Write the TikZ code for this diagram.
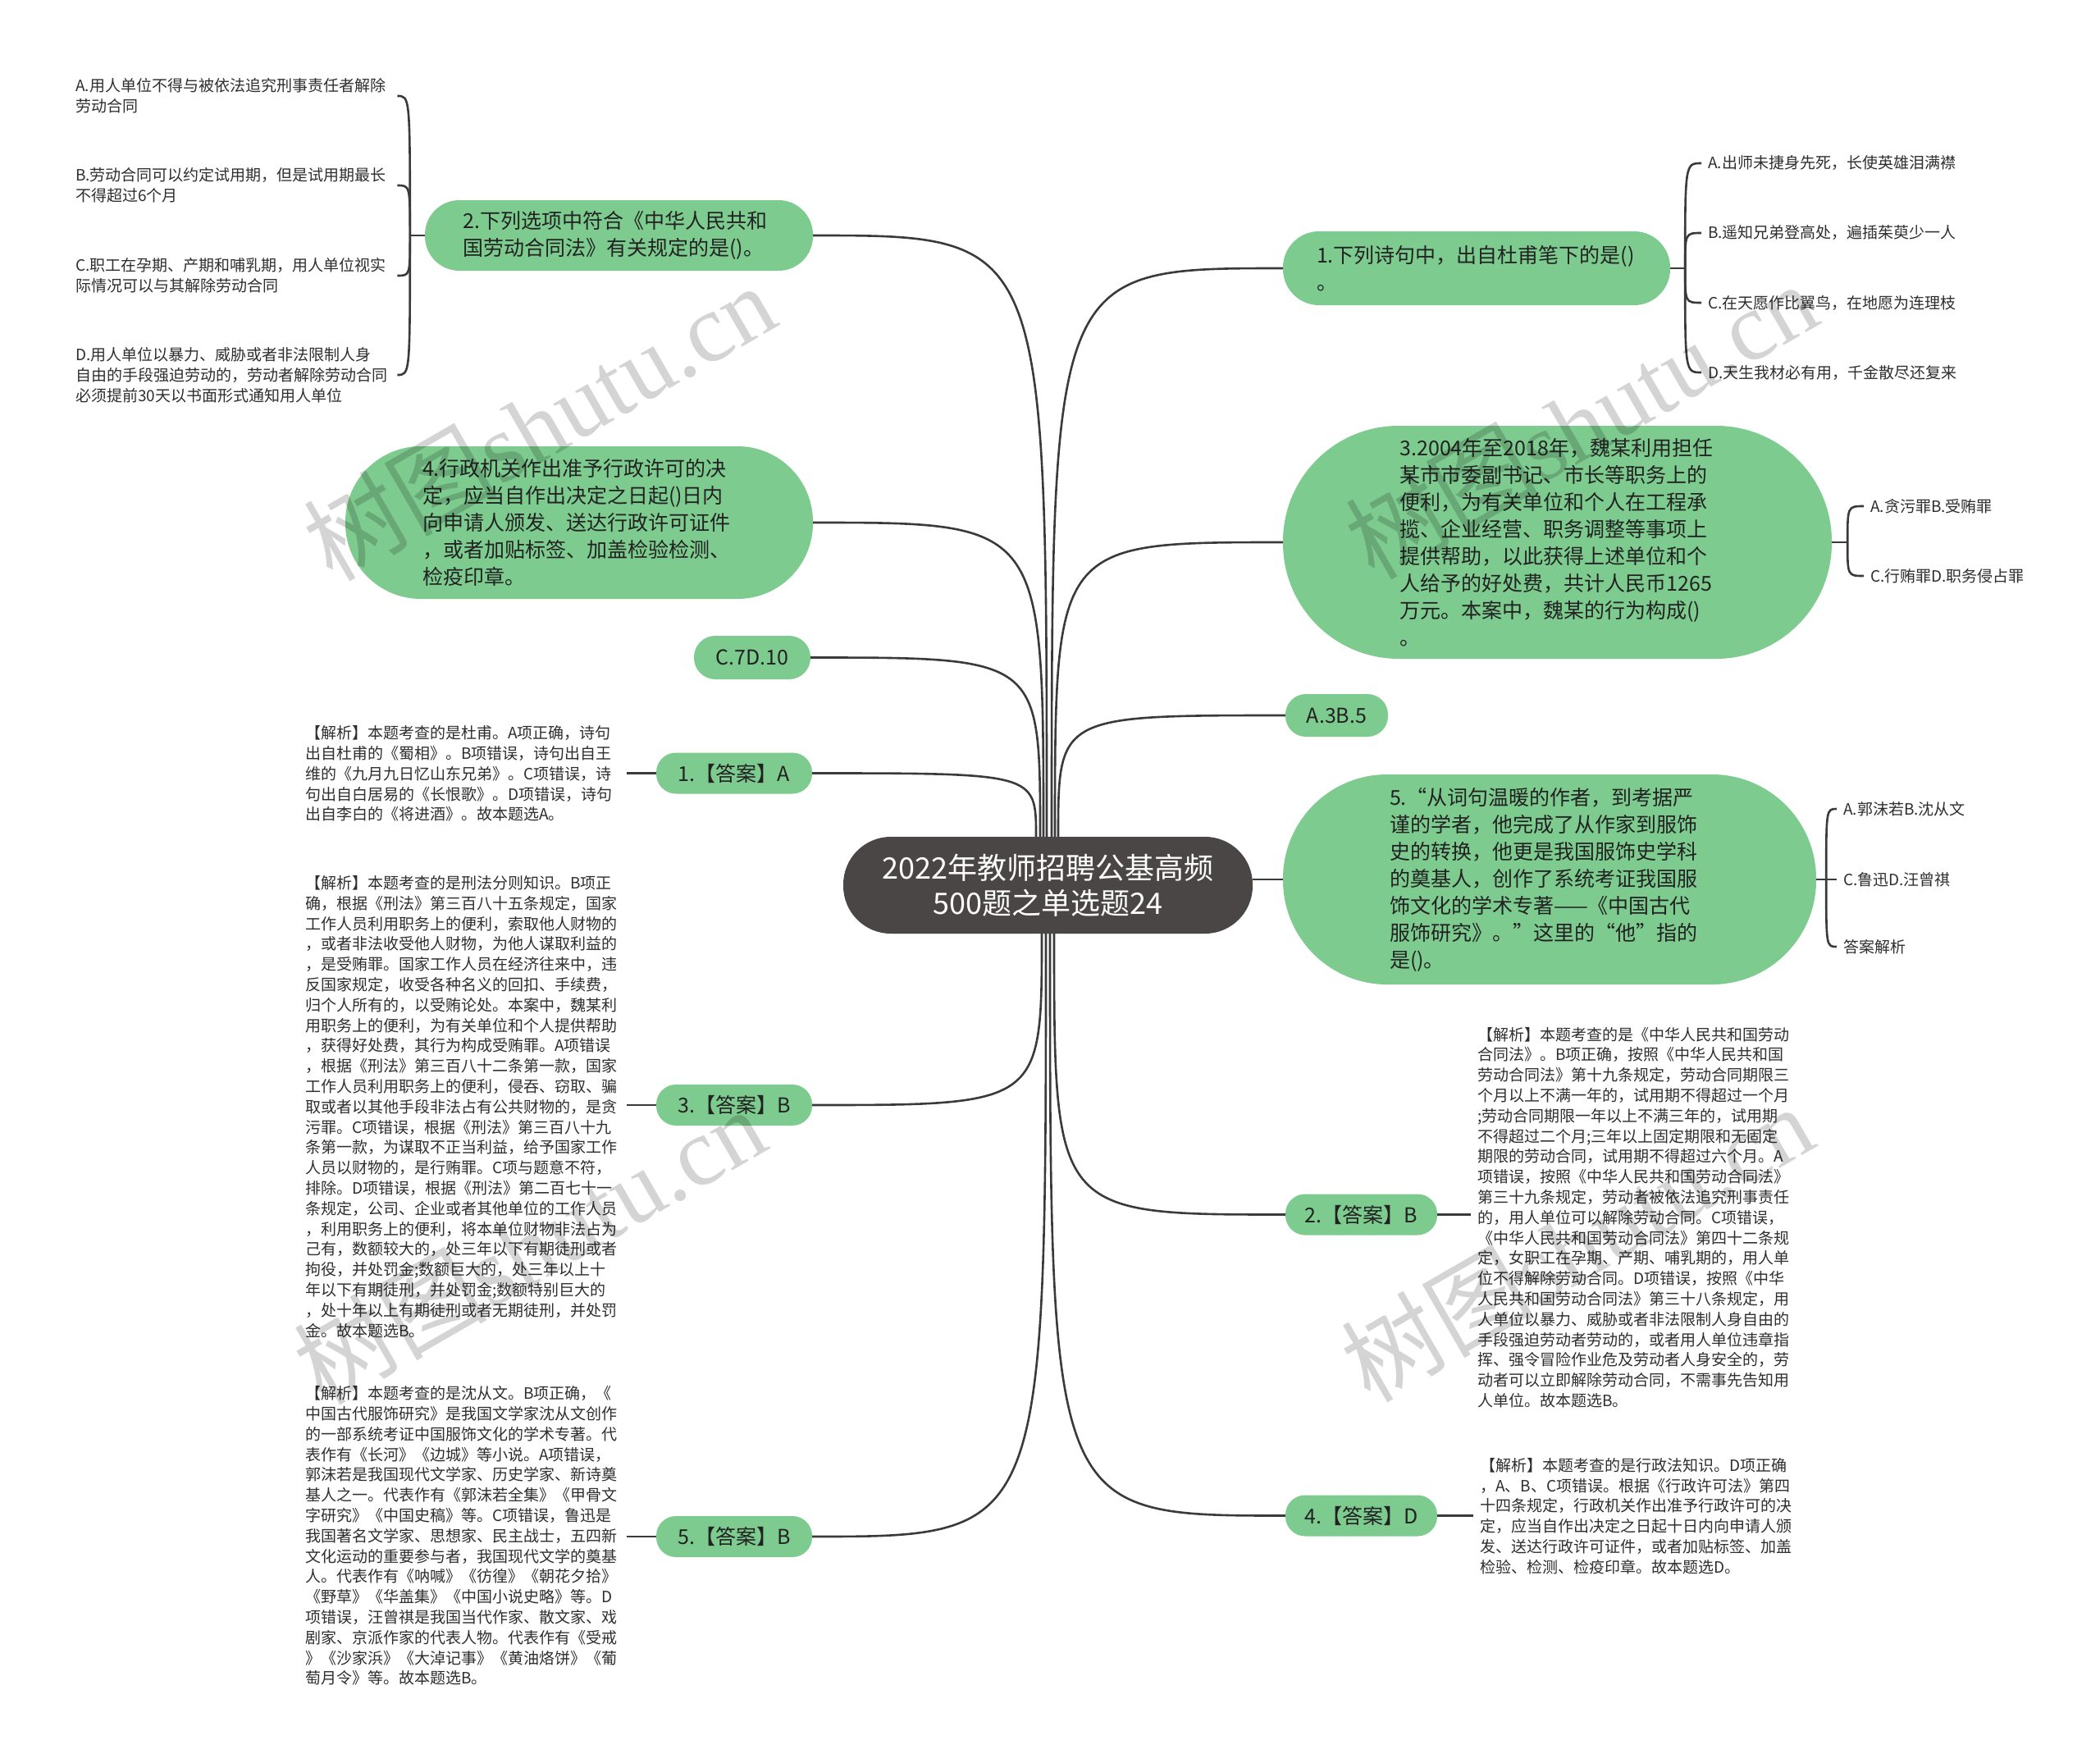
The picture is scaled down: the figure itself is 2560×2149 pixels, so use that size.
\documentclass[tikz,border=0pt]{standalone}
\usepackage{fontspec}
\setmainfont{Noto Sans CJK SC}
\newfontfamily\wmlatin{Liberation Serif}
\usetikzlibrary{calc}
\definecolor{nodegreen}{HTML}{7DCB8E}
\definecolor{rootgray}{HTML}{4A4646}
\definecolor{linegray}{HTML}{3A3A3A}
\definecolor{txtdark}{HTML}{222222}
\definecolor{leaftxt}{HTML}{2E2E2E}
\begin{document}
\begin{tikzpicture}[x=1pt,y=-1pt,
  conn/.style={draw=linegray,line width=2.6pt},
  pill/.style={fill=nodegreen,text=txtdark,inner sep=0pt,align=left,font=\fontsize{25pt}{33pt}\selectfont},
  smallpill/.style={pill,align=center,minimum height=50pt,rounded corners=24pt},
  rootbox/.style={fill=rootgray,text=white,inner sep=0pt,align=center,minimum width=499pt,minimum height=118pt,rounded corners=58pt,font=\fontsize{36pt}{43pt}\selectfont},
  leaf/.style={text=leaftxt,inner sep=0pt,align=left,font=\fontsize{19pt}{24.8pt}\selectfont},
  wm/.style={text=black,text opacity=0.17,rotate=30,inner sep=0pt,font=\fontsize{118pt}{118pt}\selectfont}
]
\useasboundingbox (0,0) rectangle (2560,2149);
\fill[white] (0,0) rectangle (2560,2149);

% ---- root ----
\node[rootbox] (c) at (1277.5,1079) {2022年教师招聘公基高频\\500题之单选题24};

% ---- left main nodes ----
\node[pill,minimum width=473pt,minimum height=86pt,text width=380pt,rounded corners=42pt] (q2) at (754.5,287) {2.下列选项中符合《中华人民共和\\国劳动合同法》有关规定的是()。};
\node[pill,minimum width=570pt,minimum height=186pt,text width=382pt,rounded corners=92pt] (q4) at (706,637) {4.行政机关作出准予行政许可的决\\定，应当自作出决定之日起()日内\\向申请人颁发、送达行政许可证件\\，或者加贴标签、加盖检验检测、\\检疫印章。};
\node[smallpill,minimum width=142pt,minimum height=53pt,rounded corners=26pt] (c7) at (917,801.5) {C.7D.10};
\node[smallpill,minimum width=190pt] (a1) at (895,942.5) {1.【答案】A};
\node[smallpill,minimum width=190pt] (a3) at (895,1347) {3.【答案】B};
\node[smallpill,minimum width=190pt] (a5) at (895,1873) {5.【答案】B};

% ---- right main nodes ----
\node[pill,minimum width=472pt,minimum height=90pt,text width=390pt,rounded corners=44pt] (q1) at (1800,327) {1.下列诗句中，出自杜甫笔下的是()\\。};
\node[pill,minimum width=669pt,minimum height=284pt,text width=384pt,rounded corners=141pt] (q3) at (1898.5,661) {3.2004年至2018年，魏某利用担任\\某市市委副书记、市长等职务上的\\便利，为有关单位和个人在工程承\\揽、企业经营、职务调整等事项上\\提供帮助，以此获得上述单位和个\\人给予的好处费，共计人民币1265\\万元。本案中，魏某的行为构成()\\。};
\node[smallpill,minimum width=125pt,minimum height=52pt,rounded corners=25pt] (a35) at (1629.5,872) {A.3B.5};
\node[pill,minimum width=650pt,minimum height=256pt,text width=390pt,rounded corners=127pt] (q5) at (1889,1072) {5.“从词句温暖的作者，到考据严\\谨的学者，他完成了从作家到服饰\\史的转换，他更是我国服饰史学科\\的奠基人，创作了系统考证我国服\\饰文化的学术专著——《中国古代\\服饰研究》。”这里的“他”指的\\是()。};
\node[smallpill,minimum width=185pt] (a2) at (1659.5,1480.5) {2.【答案】B};
\node[smallpill,minimum width=185pt] (a4) at (1659.5,1847.5) {4.【答案】D};

% ---- Q2 options ----
\node[leaf,text width=384pt,anchor=west] (o2a) at (92,117) {A.用人单位不得与被依法追究刑事责任者解除\\劳动合同};
\node[leaf,text width=384pt,anchor=west] (o2b) at (92,226) {B.劳动合同可以约定试用期，但是试用期最长\\不得超过6个月};
\node[leaf,text width=384pt,anchor=west] (o2c) at (92,336) {C.职工在孕期、产期和哺乳期，用人单位视实\\际情况可以与其解除劳动合同};
\node[leaf,text width=384pt,anchor=west] (o2d) at (92,457) {D.用人单位以暴力、威胁或者非法限制人身\\自由的手段强迫劳动的，劳动者解除劳动合同\\必须提前30天以书面形式通知用人单位};

% ---- Q1 options ----
\node[leaf,anchor=west] (o1a) at (2082,199) {A.出师未捷身先死，长使英雄泪满襟};
\node[leaf,anchor=west] (o1b) at (2082,284) {B.遥知兄弟登高处，遍插茱萸少一人};
\node[leaf,anchor=west] (o1c) at (2082,369) {C.在天愿作比翼鸟，在地愿为连理枝};
\node[leaf,anchor=west] (o1d) at (2082,454) {D.天生我材必有用，千金散尽还复来};

% ---- Q3 options ----
\node[leaf,anchor=west] (o3a) at (2280,617) {A.贪污罪B.受贿罪};
\node[leaf,anchor=west] (o3c) at (2280,702) {C.行贿罪D.职务侵占罪};

% ---- Q5 options ----
\node[leaf,anchor=west] (o5a) at (2247,986) {A.郭沫若B.沈从文};
\node[leaf,anchor=west] (o5c) at (2247,1072) {C.鲁迅D.汪曾祺};
\node[leaf,anchor=west] (o5d) at (2247,1154) {答案解析};

% ---- explanations ----
\node[leaf,text width=386pt,anchor=west] (e1) at (372,943) {【解析】本题考查的是杜甫。A项正确，诗句\\出自杜甫的《蜀相》。B项错误，诗句出自王\\维的《九月九日忆山东兄弟》。C项错误，诗\\句出自白居易的《长恨歌》。D项错误，诗句\\出自李白的《将进酒》。故本题选A。};
\node[leaf,text width=386pt,anchor=west] (e3) at (372,1349) {【解析】本题考查的是刑法分则知识。B项正\\确，根据《刑法》第三百八十五条规定，国家\\工作人员利用职务上的便利，索取他人财物的\\，或者非法收受他人财物，为他人谋取利益的\\，是受贿罪。国家工作人员在经济往来中，违\\反国家规定，收受各种名义的回扣、手续费，\\归个人所有的，以受贿论处。本案中，魏某利\\用职务上的便利，为有关单位和个人提供帮助\\，获得好处费，其行为构成受贿罪。A项错误\\，根据《刑法》第三百八十二条第一款，国家\\工作人员利用职务上的便利，侵吞、窃取、骗\\取或者以其他手段非法占有公共财物的，是贪\\污罪。C项错误，根据《刑法》第三百八十九\\条第一款，为谋取不正当利益，给予国家工作\\人员以财物的，是行贿罪。C项与题意不符，\\排除。D项错误，根据《刑法》第二百七十一\\条规定，公司、企业或者其他单位的工作人员\\，利用职务上的便利，将本单位财物非法占为\\己有，数额较大的，处三年以下有期徒刑或者\\拘役，并处罚金;数额巨大的，处三年以上十\\年以下有期徒刑，并处罚金;数额特别巨大的\\，处十年以上有期徒刑或者无期徒刑，并处罚\\金。故本题选B。};
\node[leaf,text width=386pt,anchor=west] (e5) at (372,1872) {【解析】本题考查的是沈从文。B项正确，《\\中国古代服饰研究》是我国文学家沈从文创作\\的一部系统考证中国服饰文化的学术专著。代\\表作有《长河》《边城》等小说。A项错误，\\郭沫若是我国现代文学家、历史学家、新诗奠\\基人之一。代表作有《郭沫若全集》《甲骨文\\字研究》《中国史稿》等。C项错误，鲁迅是\\我国著名文学家、思想家、民主战士，五四新\\文化运动的重要参与者，我国现代文学的奠基\\人。代表作有《呐喊》《彷徨》《朝花夕拾》\\《野草》《华盖集》《中国小说史略》等。D\\项错误，汪曾祺是我国当代作家、散文家、戏\\剧家、京派作家的代表人物。代表作有《受戒\\》《沙家浜》《大淖记事》《黄油烙饼》《葡\\萄月令》等。故本题选B。};
\node[leaf,text width=386pt,anchor=west] (e2) at (1801,1484) {【解析】本题考查的是《中华人民共和国劳动\\合同法》。B项正确，按照《中华人民共和国\\劳动合同法》第十九条规定，劳动合同期限三\\个月以上不满一年的，试用期不得超过一个月\\;劳动合同期限一年以上不满三年的，试用期\\不得超过二个月;三年以上固定期限和无固定\\期限的劳动合同，试用期不得超过六个月。A\\项错误，按照《中华人民共和国劳动合同法》\\第三十九条规定，劳动者被依法追究刑事责任\\的，用人单位可以解除劳动合同。C项错误，\\《中华人民共和国劳动合同法》第四十二条规\\定，女职工在孕期、产期、哺乳期的，用人单\\位不得解除劳动合同。D项错误，按照《中华\\人民共和国劳动合同法》第三十八条规定，用\\人单位以暴力、威胁或者非法限制人身自由的\\手段强迫劳动者劳动的，或者用人单位违章指\\挥、强令冒险作业危及劳动者人身安全的，劳\\动者可以立即解除劳动合同，不需事先告知用\\人单位。故本题选B。};
\node[leaf,text width=386pt,anchor=west] (e4) at (1804,1848) {【解析】本题考查的是行政法知识。D项正确\\，A、B、C项错误。根据《行政许可法》第四\\十四条规定，行政机关作出准予行政许可的决\\定，应当自作出决定之日起十日内向申请人颁\\发、送达行政许可证件，或者加贴标签、加盖\\检验、检测、检疫印章。故本题选D。};

% ---- root connectors ----
\coordinate (tq2) at ($(c.north)+(-1.5,0)$);
\coordinate (tq4) at ($(c.north)+(-5.5,0)$);
\coordinate (tc7) at ($(c.north)+(-9.5,0)$);
\coordinate (ta1) at ($(c.north)+(-14.5,0)$);
\coordinate (tq1) at ($(c.north)+(4.5,0)$);
\coordinate (tq3) at ($(c.north)+(8.5,0)$);
\coordinate (ta35) at ($(c.north)+(12.5,0)$);
\coordinate (ba3) at ($(c.south)+(-7.5,0)$);
\coordinate (ba5) at ($(c.south)+(-2.5,0)$);
\coordinate (ba4) at ($(c.south)+(2.5,0)$);
\coordinate (ba2) at ($(c.south)+(7.5,0)$);

\draw[conn] (tq2) .. controls (tq2 |- q2.east) .. (q2.east);
\draw[conn] (tq4) .. controls (tq4 |- q4.east) .. (q4.east);
\draw[conn] (tc7) .. controls (tc7 |- c7.east) .. (c7.east);
\draw[conn] (ta1) .. controls (ta1 |- a1.east) .. (a1.east);
\draw[conn] (tq1) .. controls (tq1 |- q1.west) .. (q1.west);
\draw[conn] (tq3) .. controls (tq3 |- q3.west) .. (q3.west);
\draw[conn] (ta35) .. controls (ta35 |- a35.west) .. (a35.west);
\draw[conn] (ba3) .. controls (ba3 |- a3.east) .. (a3.east);
\draw[conn] (ba5) .. controls (ba5 |- a5.east) .. (a5.east);
\draw[conn] (ba2) .. controls (ba2 |- a2.west) .. (a2.west);
\draw[conn] (ba4) .. controls (ba4 |- a4.west) .. (a4.west);
\draw[conn] (c.east |- q5.west) -- (q5.west);

% ---- Q2 bracket ----
\coordinate (b2) at ($(q2.west)+(-18,0)$);
\draw[conn] (q2.west) -- (b2);
\foreach \o in {o2a,o2b,o2c,o2d}{
  \draw[conn] (b2) .. controls (b2 |- \o.east) and (b2 |- \o.east) .. ($(\o.east)+(8,0)$);
}
% ---- Q1 bracket ----
\coordinate (b1) at ($(q1.east)+(18,0)$);
\draw[conn] (q1.east) -- (b1);
\foreach \o in {o1a,o1b,o1c,o1d}{
  \draw[conn] (b1) .. controls (b1 |- \o.west) and (b1 |- \o.west) .. ($(\o.west)+(-8,0)$);
}
% ---- Q3 bracket ----
\coordinate (b3) at ($(q3.east)+(19,0)$);
\draw[conn] (q3.east) -- (b3);
\foreach \o in {o3a,o3c}{
  \draw[conn] (b3) .. controls (b3 |- \o.west) and (b3 |- \o.west) .. ($(\o.west)+(-8,0)$);
}
% ---- Q5 bracket ----
\coordinate (b5) at ($(q5.east)+(12,0)$);
\draw[conn] (q5.east) -- (b5);
\foreach \o in {o5a,o5d}{
  \draw[conn] (b5) .. controls (b5 |- \o.west) and (b5 |- \o.west) .. ($(\o.west)+(-8,0)$);
}
\draw[conn] (b5) -- ($(o5c.west)+(-8,0)$);

% ---- explanation connectors ----
\draw[conn] (a1.west) -- ($(a1.west -| e1.east)+(6,0)$);
\draw[conn] (a3.west) -- ($(a3.west -| e3.east)+(6,0)$);
\draw[conn] (a5.west) -- ($(a5.west -| e5.east)+(6,0)$);
\draw[conn] (a2.east) -- ($(a2.east -| e2.west)+(-8,0)$);
\draw[conn] (a4.east) -- ($(a4.east -| e4.west)+(-8,0)$);

% ---- watermarks ----
\node[wm] (wm1) at (657,514) {树图{\wmlatin shutu.cn}};
\node[wm] (wm2) at (1927,512) {树图{\wmlatin shutu.cn}};
\node[wm] (wm3) at (645,1518) {树图{\wmlatin shutu.cn}};
\node[wm] (wm4) at (1922,1515) {树图{\wmlatin shutu.cn}};
\end{tikzpicture}
\end{document}
